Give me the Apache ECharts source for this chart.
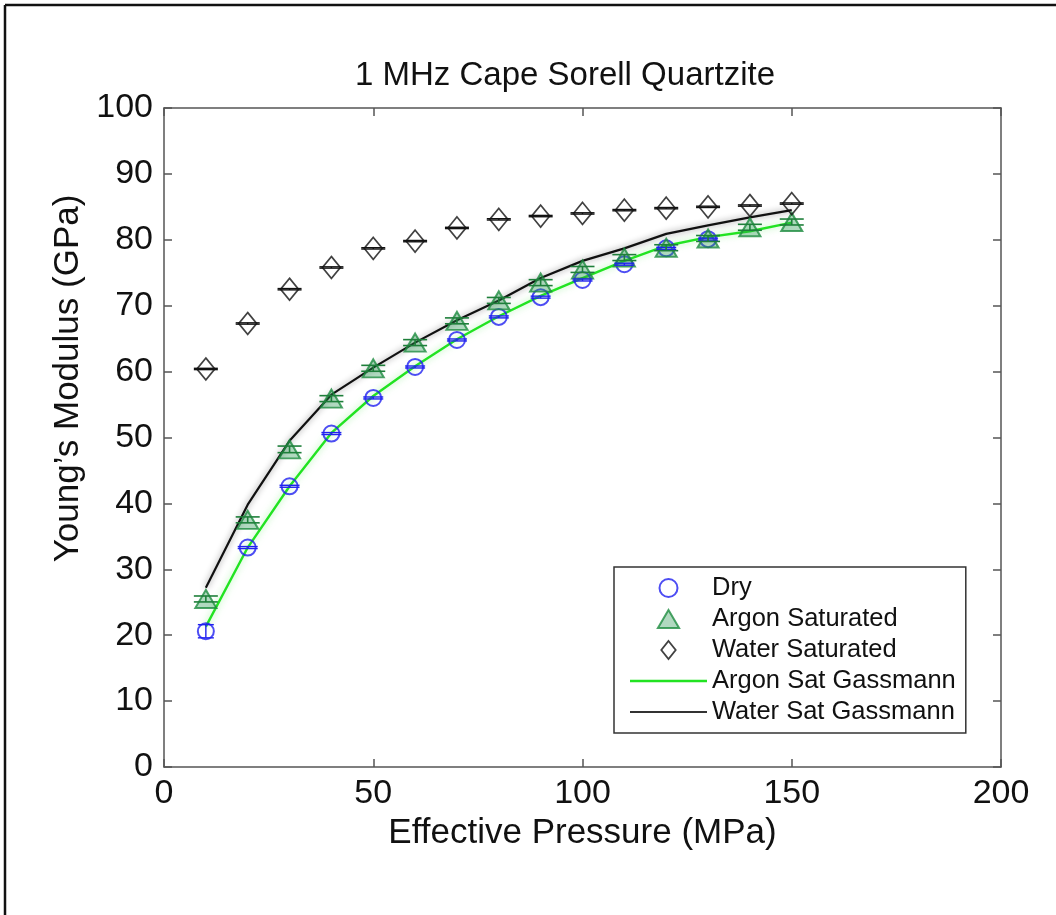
<!DOCTYPE html>
<html>
<head>
<meta charset="utf-8">
<script src="https://cdn.jsdelivr.net/npm/echarts@6/dist/echarts.min.js"></script>
<style>
html,body{margin:0;padding:0;background:#fff;}
#chart{width:1056px;height:915px;}
</style>
</head>
<body>
<div id="chart"></div>
<script>
// ---- data ----
const pressure = [10, 20, 30, 40, 50, 60, 70, 80, 90, 100, 110, 120, 130, 140, 150];
const dry = [20.6, 33.3, 42.6, 50.6, 56.0, 60.7, 64.8, 68.3, 71.3, 73.9, 76.3, 78.7, 80.1];
const dryErr = [1.0, 0.15, 0.15, 0.15, 0.15, 0.15, 0.15, 0.15, 0.15, 0.15, 0.15, 0.15, 0.15];
const argon = [25.5, 37.5, 48.2, 55.9, 60.5, 64.4, 67.7, 70.8, 73.5, 75.5, 77.3, 78.8, 80.2, 81.9, 82.7];
const argonErr = [0.45, 0.45, 0.5, 0.45, 0.45, 0.45, 0.45, 0.45, 0.45, 0.45, 0.45, 0.45, 0.45, 0.45, 0.45];
const water = [60.4, 67.3, 72.5, 75.8, 78.7, 79.8, 81.8, 83.1, 83.6, 84.0, 84.5, 84.8, 85.0, 85.2, 85.5];
const waterErr = [0.1, 0.1, 0.1, 0.1, 0.1, 0.1, 0.1, 0.1, 0.1, 0.1, 0.1, 0.1, 0.1, 0.1, 0.1];
const argonGassmann = [21.3, 33.3, 42.6, 50.7, 56.3, 60.8, 64.9, 68.4, 71.5, 74.2, 76.8, 79.1, 80.4, 81.3, 82.6];
const waterGassmann = [27.2, 39.8, 49.5, 56.5, 60.6, 64.4, 67.8, 70.8, 74.2, 76.8, 78.7, 80.9, 82.2, 83.4, 84.5];
const xTicks = [0, 50, 100, 150, 200];
const yTicks = [0, 10, 20, 30, 40, 50, 60, 70, 80, 90, 100];

const FONT = 'Liberation Sans, Arial, sans-serif';
const pairs = (ys) => ys.map((v, i) => [pressure[i], v]);
const triples = (ys, es) => ys.map((v, i) => [pressure[i], v, es[i]]);

function errSeries(ys, es, half, color, lw) {
  return {
    type: 'custom',
    coordinateSystem: 'cartesian2d',
    silent: true,
    z: 6,
    encode: { x: 0, y: 1 },
    data: triples(ys, es),
    renderItem: function (params, api) {
      const x = api.value(0), y = api.value(1), e = api.value(2);
      const lo = api.coord([x, y - e]);
      const hi = api.coord([x, y + e]);
      const h = e > 0.6 ? half * 0.8 : half;
      const st = { stroke: color, lineWidth: lw, fill: null };
      return {
        type: 'group',
        children: [
          { type: 'line', shape: { x1: lo[0], y1: lo[1], x2: hi[0], y2: hi[1] }, style: st },
          { type: 'line', shape: { x1: lo[0] - h, y1: lo[1], x2: lo[0] + h, y2: lo[1] }, style: st },
          { type: 'line', shape: { x1: hi[0] - h, y1: hi[1], x2: hi[0] + h, y2: hi[1] }, style: st }
        ]
      };
    }
  };
}

const axisLineStyle = { color: '#555', width: 1.5 };
const chart = echarts.init(document.getElementById('chart'), null, { renderer: 'canvas' });
chart.setOption({
  backgroundColor: '#fff',
  animation: false,
  title: {
    text: '1 MHz Cape Sorell Quartzite',
    left: 560,
    top: 54,
    textAlign: 'center',
    textStyle: { fontFamily: FONT, fontSize: 33, fontWeight: 'normal', color: '#111' }
  },
  grid: { left: 164, top: 108, right: 55, bottom: 148 },
  graphic: [
    { type: 'line', shape: { x1: 5, y1: 5, x2: 1056, y2: 5 }, style: { stroke: '#111', lineWidth: 2.5 } },
    { type: 'line', shape: { x1: 5, y1: 5, x2: 5, y2: 915 }, style: { stroke: '#111', lineWidth: 2.5 } }
  ],
  legend: {
    orient: 'vertical',
    left: 614,
    top: 567,
    padding: [8, 10, 8, 16],
    itemWidth: 77,
    itemHeight: 18,
    itemGap: 5,
    borderColor: '#333',
    borderWidth: 1.5,
    backgroundColor: '#fff',
    selectedMode: false,
    textStyle: { fontFamily: FONT, fontSize: 25.5, color: '#111', lineHeight: 24 },
    data: [
      { name: 'Dry', icon: 'circle',
        itemStyle: { color: 'rgba(255,255,255,0)', borderColor: '#2020f0', borderWidth: 2 } },
      { name: 'Argon Saturated', icon: 'path://M10,0L20,17L0,17Z',
        itemStyle: { color: 'rgba(40,150,80,0.45)', borderColor: '#1e8c40', borderWidth: 2 } },
      { name: 'Water Saturated', icon: 'path://M8,0L16,10L8,20L0,10Z',
        itemStyle: { color: 'rgba(255,255,255,0)', borderColor: '#111', borderWidth: 1.8 } },
      { name: 'Argon Sat Gassmann', icon: 'path://M0,0L77,0L77,2.4L0,2.4Z',
        itemStyle: { color: '#22e322', borderWidth: 0 } },
      { name: 'Water Sat Gassmann', icon: 'path://M0,0L77,0L77,2.2L0,2.2Z',
        itemStyle: { color: '#333', borderWidth: 0 } }
    ]
  },
  xAxis: [
    {
      type: 'value', min: 0, max: 200, interval: 50, position: 'bottom',
      name: 'Effective Pressure (MPa)', nameLocation: 'middle', nameGap: 48,
      nameTextStyle: { fontFamily: FONT, fontSize: 35, color: '#111' },
      axisLine: { show: true, onZero: false, lineStyle: axisLineStyle },
      axisTick: { show: true, inside: true, length: 8, lineStyle: axisLineStyle },
      axisLabel: { fontFamily: FONT, fontSize: 34, color: '#111', margin: 10,
        formatter: (v) => xTicks.includes(v) ? String(v) : '' },
      splitLine: { show: false }
    },
    {
      type: 'value', min: 0, max: 200, interval: 50, position: 'top',
      axisLine: { show: true, onZero: false, lineStyle: axisLineStyle },
      axisTick: { show: true, inside: true, length: 8, lineStyle: axisLineStyle },
      axisLabel: { show: false }, splitLine: { show: false }
    }
  ],
  yAxis: [
    {
      type: 'value', min: 0, max: 100, interval: 10, position: 'left',
      name: 'Young\u2019s Modulus (GPa)', nameLocation: 'middle', nameGap: 72,
      nameTextStyle: { fontFamily: FONT, fontSize: 35, color: '#111', padding: [0, 0, 0, 118] },
      axisLine: { show: true, onZero: false, lineStyle: axisLineStyle },
      axisTick: { show: true, inside: true, length: 8, lineStyle: axisLineStyle },
      axisLabel: { fontFamily: FONT, fontSize: 34, color: '#111', margin: 11,
        formatter: (v) => yTicks.includes(v) ? String(v) : '' },
      splitLine: { show: false }
    },
    {
      type: 'value', min: 0, max: 100, interval: 10, position: 'right',
      axisLine: { show: true, onZero: false, lineStyle: axisLineStyle },
      axisTick: { show: true, inside: true, length: 8, lineStyle: axisLineStyle },
      axisLabel: { show: false }, splitLine: { show: false }
    }
  ],
  series: [
    {
      name: 'Argon Sat Gassmann', type: 'line', data: pairs(argonGassmann),
      symbol: 'none', z: 2,
      lineStyle: { color: '#22e322', width: 2.4, shadowColor: 'rgba(110,235,110,0.6)', shadowBlur: 7 },
      itemStyle: { color: '#22e322' }
    },
    {
      name: 'Water Sat Gassmann', type: 'line', data: pairs(waterGassmann),
      symbol: 'none', z: 2,
      lineStyle: { color: '#111', width: 2.2, shadowColor: 'rgba(0,0,0,0.45)', shadowBlur: 6 },
      itemStyle: { color: '#111' }
    },
    errSeries(dry, dryErr, 10, '#2020f0', 1.4),
    errSeries(argon, argonErr, 12, '#1e7f3a', 1.6),
    errSeries(water, waterErr, 12, '#111', 1.4),
    {
      name: 'Dry', type: 'scatter', data: pairs(dry), z: 5,
      symbol: 'circle', symbolSize: 16,
      itemStyle: { color: 'rgba(255,255,255,0)', borderColor: '#2020f0', borderWidth: 2 }
    },
    {
      name: 'Argon Saturated', type: 'scatter', data: pairs(argon), z: 5,
      symbol: 'triangle', symbolSize: [21, 18],
      itemStyle: { color: 'rgba(40,150,80,0.45)', borderColor: '#1e8c40', borderWidth: 2 }
    },
    {
      name: 'Water Saturated', type: 'scatter', data: pairs(water), z: 5,
      symbol: 'diamond', symbolSize: [18, 22],
      itemStyle: { color: 'rgba(255,255,255,0)', borderColor: '#111', borderWidth: 1.7 }
    }
  ]
});
</script>
</body>
</html>
